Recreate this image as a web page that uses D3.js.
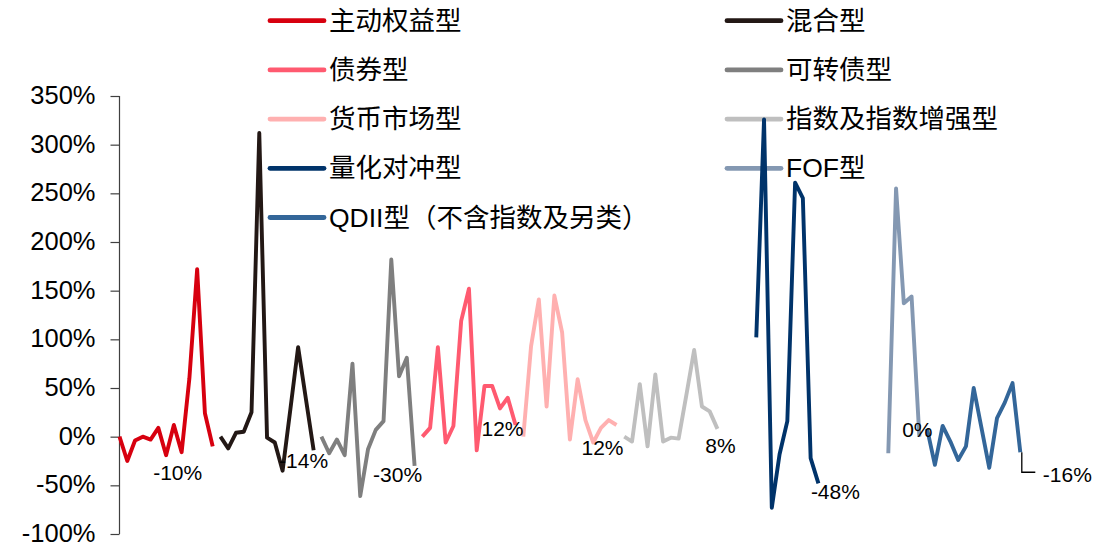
<!DOCTYPE html>
<html>
<head>
<meta charset="utf-8">
<script src="https://cdn.jsdelivr.net/npm/d3@7"></script>
<style>
  body { margin: 0; background: #fff; }
  svg { display: block; font-family: "Liberation Sans", Arial, "Noto Sans CJK SC", sans-serif; }
  .axis path, .axis line { stroke: #404040; stroke-width: 1.2; }
  .axis text { font-size: 25.5px; fill: #000; }
</style>
</head>
<body>
<svg id="chart"></svg>
<script>
// fund types, in the order they are drawn from left to right
const seriesNames = ["主动权益型", "混合型", "可转债型", "债券型", "货币市场型",
                     "指数及指数增强型", "量化对冲型", "FOF型", "QDII型（不含指数及另类）"];

// 13 periods per type (values in %)
const equity      = [0, -25, -4, 0, -3, 9, -19, 12, -16, 60, 172, 24, -10];
const hybrid      = [0, -12, 4, 5, 25, 312, -1, -6, -35, 28, 92, 39, -14];
const convertible = [0, -17, -3, -19, 75, -61, -13, 7, 16, 182, 62, 81, -30];
const bond        = [0, 9, 92, -6, 11, 119, 152, -14, 52, 52, 29, 40, 12];
const money       = [0, 93, 141, 31, 145, 107, -3, 59, 17, -6, 9, 17, 12];
const indexFund   = [0, -5, 54, -10, 64, -5, -1, -2, 43, 89, 31, 26, 8];
const quant       = [null, null, null, null, 102, 326, -73, -18, 16, 261, 245, -22, -48];
const fof         = [null, null, null, null, null, null, null, null, -17, 255, 137, 144, 0];
const qdii        = [8, -29, 11, -5, -24, -10, 50, 9, -32, 19, 35, 55, -16];

const seriesValues = [equity, hybrid, convertible, bond, money, indexFund, quant, fof, qdii];
const endLabels = ["-10%", "-14%", "-30%", "12%", "12%", "8%", "-48%", "0%", "-16%"];
const yTicks = [-100, -50, 0, 50, 100, 150, 200, 250, 300, 350];

const colors = ["#d7000f", "#231815", "#7f7f7f", "#ff5a70", "#ffb0b0",
                "#bfbfbf", "#00336a", "#8498b2", "#336699"];
// legend slot per series: [column, row]
const legendPos = [[0, 0], [1, 0], [1, 1], [0, 1], [0, 2], [1, 2], [0, 3], [1, 3], [0, 4]];
// end label offsets from last point
const labelOff = [[-35, 26], [-10, 10], [-17, 9], [-13, 4], [-14, 23], [3, 17], [17, 8], [-2, -7], [47, 22]];

const width = 1120, height = 546;
const svg = d3.select("#chart").attr("width", width).attr("height", height);

const slots = [];
seriesNames.forEach((n, s) => seriesValues[s].forEach((v, i) => slots.push(n + "-" + i)));

const x = d3.scalePoint().domain(slots).range([119.5, 1020.3]);
const y = d3.scaleLinear().domain([-100, 350]).range([534, 96]);

svg.append("g")
    .attr("class", "axis")
    .attr("transform", "translate(119.5,0)")
    .call(d3.axisLeft(y).tickValues(yTicks).tickSize(9).tickPadding(15).tickFormat(d => d + "%"))
    .call(g => g.select(".domain").attr("d", `M0,${y(350)}V${y(-100)}`))
    .selectAll("text").attr("font-family", "Liberation Sans, Arial, sans-serif").attr("dy", "0.3em");

// legend
const legend = svg.append("g");
const legX = [270, 727], legTextX = [329, 786];
seriesNames.forEach((n, s) => {
    const [c, r] = legendPos[s];
    const ly = 20.7 + r * 49.2;
    legend.append("line")
        .attr("x1", legX[c]).attr("x2", legX[c] + 54)
        .attr("y1", ly).attr("y2", ly)
        .attr("stroke", colors[s]).attr("stroke-width", 4.8).attr("stroke-linecap", "round");
    legend.append("text")
        .attr("x", legTextX[c]).attr("y", ly)
        .attr("dominant-baseline", "central")
        .attr("font-size", 26.5)
        .attr("fill", "#000")
        .text(n);
});

const line = d3.line()
    .defined(d => d.v != null)
    .x(d => x(d.k))
    .y(d => y(d.v));

seriesNames.forEach((n, s) => {
    const pts = seriesValues[s].map((v, i) => ({ k: n + "-" + i, v: v }));
    svg.append("path")
        .datum(pts)
        .attr("fill", "none")
        .attr("stroke", colors[s])
        .attr("stroke-width", 3.9)
        .attr("stroke-linejoin", "round")
        .attr("d", line);
});

// end labels
seriesNames.forEach((n, s) => {
    const vals = seriesValues[s];
    const last = vals.length - 1;
    const px = x(n + "-" + last), py = y(vals[last]);
    if (s === seriesNames.length - 1) {
        svg.append("path")
            .attr("d", `M${px + 1.5},${py}V${py + 20}H${px + 15}`)
            .attr("fill", "none").attr("stroke", "#000").attr("stroke-width", 1.3);
    }
    svg.append("text")
        .attr("x", px + labelOff[s][0]).attr("y", py + labelOff[s][1])
        .attr("text-anchor", "middle")
        .attr("dominant-baseline", "central")
        .attr("font-size", 21)
        .attr("fill", "#000")
        .text(endLabels[s]);
});
</script>
</body>
</html>
